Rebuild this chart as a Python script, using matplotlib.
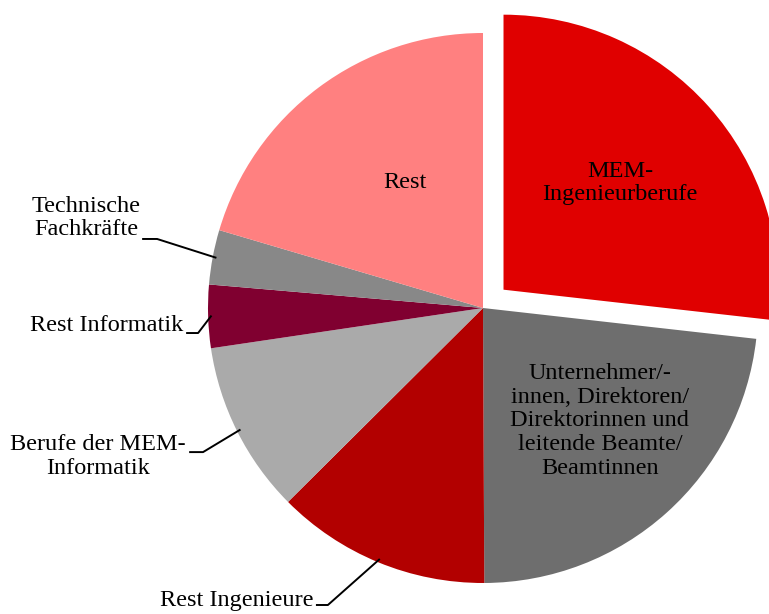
import matplotlib.pyplot as plt
import numpy as np

plt.rcParams['font.family'] = ['Liberation Serif', 'DejaVu Serif']

# share of each occupational group (percent)
labels = ['MEM-\nIngenieurberufe',
          'Unternehmer/-\ninnen, Direktoren/\nDirektorinnen und\nleitende Beamte/\nBeamtinnen',
          'Rest Ingenieure',
          'Berufe der MEM-\nInformatik',
          'Rest Informatik',
          'Technische\nFachkräfte',
          'Rest']
shares = [26.75, 23.1, 12.6, 10.1, 3.7, 3.2, 20.4]
colors = ['#E00000', '#6E6E6E', '#B20000', '#AAAAAA', '#800030', '#888888', '#FF8080']
explode = [0.1, 0, 0, 0, 0, 0, 0]

fig = plt.figure(figsize=(7.69, 6.14), dpi=100)
ax = fig.add_axes([0, 0, 1, 1])

wedges, _ = ax.pie(shares, colors=colors, explode=explode, startangle=90,
                   counterclock=False, radius=1.0,
                   wedgeprops={'linewidth': 0})

ax.set_xlim(-483 / 275, (769 - 483) / 275)
ax.set_ylim(-(614 - 308) / 275, 308 / 275)
ax.set_aspect('equal')
ax.axis('off')

fs = 17.5
ls = 1.17
# labels inside the slices
inside = {0: (0.498, 0.455), 1: (0.425, -0.41), 6: (-0.284, 0.455)}
for i, (x, y) in inside.items():
    ax.text(x, y, labels[i], ha='center', va='center', fontsize=fs,
            linespacing=ls)

# labels outside with leader lines: text anchor (right edge), elbow start, elbow end
outside = {
    5: ((-1.245, 0.327), (-1.236, 0.251), (-1.185, 0.251)),
    4: ((-1.091, -0.062), (-1.076, -0.091), (-1.036, -0.091)),
    3: ((-1.080, -0.540), (-1.065, -0.524), (-1.018, -0.524)),
    2: ((-0.618, -1.065), (-0.604, -1.080), (-0.564, -1.080)),
}
for i, (txt, p0, p1) in outside.items():
    w = wedges[i]
    mid = np.deg2rad((w.theta1 + w.theta2) / 2)
    ex, ey = np.cos(mid) * 0.99, np.sin(mid) * 0.99
    ax.plot([p0[0], p1[0], ex], [p0[1], p1[1], ey], color='black', lw=1.4)
    ax.text(txt[0], txt[1], labels[i], ha='right', va='center', fontsize=fs,
            multialignment='center', linespacing=ls)

fig.savefig('out.png', dpi=100)
